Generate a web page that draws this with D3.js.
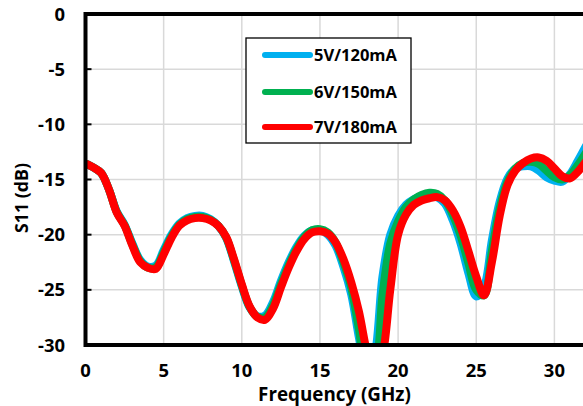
<!DOCTYPE html>
<html><head><meta charset="utf-8">
<script src="https://cdn.jsdelivr.net/npm/d3@7"></script>
<style>body{margin:0;background:#fff}svg{display:block}text{font-family:"Open Sans",Lato,sans-serif;font-weight:bold;fill:#000}</style>
</head><body><svg id="c" width="583" height="406"></svg>
<script>
const freqs = [0.1,0.5,1,1.5,2,2.5,3,3.5,4,4.5,5,5.5,6,6.5,7,7.5,8,8.5,9,9.5,10,10.5,11,11.5,12,12.5,13,13.5,14,14.5,15,15.5,16,16.5,17,17.5,18,18.5,19,19.5,20,20.5,21,21.5,22,22.5,23,23.5,24,24.5,25,25.5,26,26.5,27,27.5,28,28.5,29,29.5,30,30.5,31,31.5,32];
const s5V = [-13.6,-13.9,-14.4,-15.9,-17.9,-19.1,-20.8,-22.3,-22.9,-22.8,-21.4,-20.0,-19.0,-18.5,-18.3,-18.3,-18.6,-19.2,-20.3,-22.4,-24.7,-26.6,-27.4,-27.3,-26.1,-24.2,-22.5,-21.1,-20.1,-19.6,-19.6,-20.0,-21.0,-22.9,-25.4,-29.4,-33,-31,-23.8,-20.0,-18.3,-17.3,-16.8,-16.5,-16.4,-16.6,-17.2,-18.7,-20.8,-23.5,-25.6,-24.7,-20.5,-17.0,-14.9,-14.0,-13.8,-13.8,-14.2,-14.8,-15.1,-15.2,-14.5,-13.3,-12.0];
const s6V = [-13.6,-13.9,-14.4,-15.9,-17.95,-19.15,-20.9,-22.4,-23.0,-22.95,-21.6,-20.15,-19.1,-18.6,-18.4,-18.4,-18.65,-19.2,-20.25,-22.3,-24.6,-26.55,-27.45,-27.5,-26.4,-24.5,-22.75,-21.3,-20.2,-19.6,-19.5,-19.8,-20.7,-22.5,-24.8,-28.6,-32.5,-32,-25.5,-20.8,-18.8,-17.5,-16.8,-16.4,-16.2,-16.3,-16.9,-18.2,-20.1,-22.6,-25.0,-25.5,-21.5,-17.6,-15.2,-14.0,-13.5,-13.4,-13.6,-14.2,-14.8,-15.0,-14.6,-13.7,-12.6];
const s7V = [-13.6,-13.9,-14.4,-15.9,-18.0,-19.2,-21.0,-22.5,-23.0,-23.1,-21.8,-20.3,-19.2,-18.7,-18.5,-18.5,-18.7,-19.2,-20.2,-22.2,-24.5,-26.5,-27.5,-27.7,-26.7,-24.8,-23.0,-21.5,-20.4,-19.8,-19.7,-19.9,-20.7,-22.2,-24.3,-27.0,-30.6,-33,-31.0,-25.0,-20.0,-18.2,-17.3,-16.9,-16.7,-16.6,-16.9,-17.8,-19.3,-21.5,-23.8,-25.5,-22.5,-18.3,-15.5,-14.2,-13.5,-13.1,-13.0,-13.3,-14.0,-14.7,-14.9,-14.3,-13.4];
const seriesNames = ["5V/120mA","6V/150mA","7V/180mA"];
const seriesColors = ["#00b0f0","#00b050","#ff0000"];
const xTicks = [0,5,10,15,20,25,30];
const yTicks = [0,-5,-10,-15,-20,-25,-30];

const svg = d3.select("#c");
const L=85.5, T=14, B=345;
const x = d3.scaleLinear().domain([0,32]).range([L, L+32*15.63]);
const y = d3.scaleLinear().domain([-30,0]).range([B,T]);

// size a font so that a sample string spans a target width
function fitSize(sample, target){
  const t = svg.append("text").attr("font-size",20).text(sample);
  const w = t.node().getComputedTextLength(); t.remove();
  return 20*target/w;
}
const tickSize = fitSize("-30",27);
const titleSize = fitSize("Frequency (GHz)",153);
const ylabSize = fitSize("S11 (dB)",70);
const legSize = fitSize("5V/120mA",83);

// grid
svg.append("g").selectAll("line").data(xTicks.slice(1)).join("line")
  .attr("x1",d=>x(d)).attr("x2",d=>x(d)).attr("y1",T).attr("y2",B)
  .attr("stroke","#d9d9d9").attr("stroke-width",1.5);
svg.append("g").selectAll("line").data(yTicks.slice(1,-1)).join("line")
  .attr("x1",L).attr("x2",600).attr("y1",d=>y(d)).attr("y2",d=>y(d))
  .attr("stroke","#d9d9d9").attr("stroke-width",1.5);

// y tick marks (inside)
svg.append("g").selectAll("line").data(yTicks).join("line")
  .attr("x1",L).attr("x2",L+6).attr("y1",d=>y(d)).attr("y2",d=>y(d))
  .attr("stroke","#000").attr("stroke-width",2);

// clip
svg.append("clipPath").attr("id","pc").append("rect")
  .attr("x",L).attr("y",T).attr("width",600).attr("height",B-T);

const line = d3.line().x(d=>x(d[0])).y(d=>y(d[1])).curve(d3.curveCatmullRom.alpha(0.5));
const allSeries=[s5V,s6V,s7V];
const gl = svg.append("g").attr("clip-path","url(#pc)");
allSeries.forEach((s,i)=>{
  gl.append("path").datum(freqs.map((f,j)=>[f,s[j]]))
    .attr("d",line).attr("fill","none").attr("stroke",seriesColors[i])
    .attr("stroke-width",8).attr("stroke-linejoin","round").attr("stroke-linecap","round");
});

// frame: left, top, bottom
svg.append("path")
  .attr("d",`M${x(32)+10},${T} H${L} V${B} H${x(32)+10}`)
  .attr("fill","none").attr("stroke","#000").attr("stroke-width",4);

// tick labels
svg.append("g").selectAll("text").data(yTicks).join("text")
  .attr("x",65).attr("y",d=>y(d)).attr("dy","0.36em").attr("text-anchor","end")
  .attr("font-size",tickSize).text(d=>d);
svg.append("g").selectAll("text").data(xTicks).join("text")
  .attr("x",d=>x(d)).attr("y",370).attr("dy","0.36em").attr("text-anchor","middle")
  .attr("font-size",tickSize).text(d=>d);

svg.append("text").attr("x",334.5).attr("y",394).attr("dy","0.36em").attr("text-anchor","middle")
  .attr("font-size",titleSize).text("Frequency (GHz)");
svg.append("text").attr("transform","translate(22,198) rotate(-90)").attr("dy","0.36em")
  .attr("text-anchor","middle").attr("font-size",ylabSize).text("S11 (dB)");

// legend
const lg = svg.append("g");
lg.append("rect").attr("x",246).attr("y",38).attr("width",165).attr("height",105)
  .attr("fill","#fff").attr("stroke","#000").attr("stroke-width",1.3);
const rows=[55,92,127];
seriesNames.forEach((n,i)=>{
  lg.append("line").attr("x1",265).attr("x2",310).attr("y1",rows[i]).attr("y2",rows[i])
    .attr("stroke",seriesColors[i]).attr("stroke-width",6).attr("stroke-linecap","round");
  lg.append("text").attr("x",314).attr("y",rows[i]).attr("dy","0.36em").attr("font-size",legSize).text(n);
});
</script></body></html>
